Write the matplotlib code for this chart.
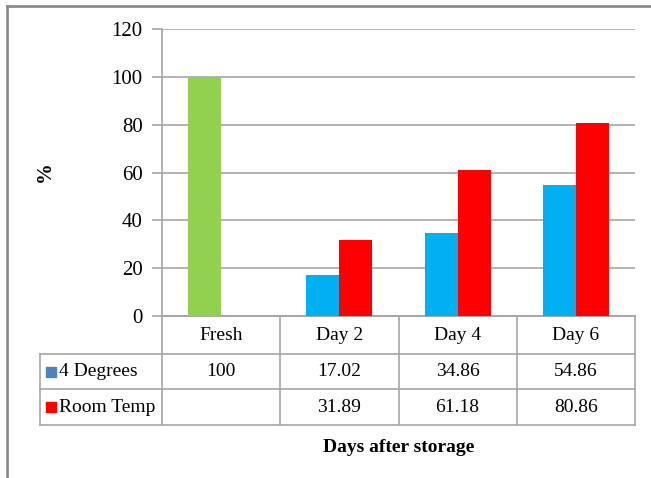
import matplotlib
matplotlib.use("Agg")
import matplotlib.pyplot as plt
from matplotlib.lines import Line2D
from matplotlib.patches import Rectangle
import numpy as np

categories = ["Fresh", "Day 2", "Day 4", "Day 6"]
series_names = ["4 Degrees", "Room Temp"]
four_degrees = [100, 17.02, 34.86, 54.86]
room_temp = [None, 31.89, 61.18, 80.86]
table_text_4 = ["100", "17.02", "34.86", "54.86"]
table_text_rt = ["", "31.89", "61.18", "80.86"]
yticks = [0, 20, 40, 60, 80, 100, 120]

plt.rcParams['font.family'] = ['Liberation Serif', 'DejaVu Serif']

W, H = 651, 478
fig = plt.figure(figsize=(W / 100, H / 100), dpi=100)

# overlay axes in pixel coordinates
ov = fig.add_axes([0, 0, 1, 1])
ov.set_xlim(0, W)
ov.set_ylim(H, 0)
ov.axis("off")

grid_c = "#A6A6A6"
frame_c = "#8C8C8C"

# outer frame
ov.add_line(Line2D([7, W], [6, 6], color=frame_c, lw=2))
ov.add_line(Line2D([7, 7], [6, H], color=frame_c, lw=2))

L, R, T, B = 162, 635, 29, 316
ax = fig.add_axes([L / W, 1 - B / H, (R - L) / W, (B - T) / H])
x = np.arange(len(categories))
bw = 0.28
c4 = ["#92D050"] + ["#00B0F0"] * (len(categories) - 1)
ax.bar(x - bw / 2, four_degrees, width=bw, color=c4, zorder=3)
rt_x = [xi + bw / 2 for xi, v in zip(x, room_temp) if v is not None]
rt_v = [v for v in room_temp if v is not None]
ax.bar(rt_x, rt_v, width=bw, color="#FF0000", zorder=3)
ax.set_xlim(-0.5, len(categories) - 0.5)
ax.set_ylim(0, 120)
ax.set_yticks(yticks)
ax.set_yticklabels([str(t) for t in yticks], fontsize=15)
ax.yaxis.grid(True, color=grid_c, lw=1.2)
ax.set_axisbelow(True)
ax.set_xticks([])
for s in ["top", "right"]:
    ax.spines[s].set_visible(False)
ax.spines["left"].set_color(grid_c)
ax.spines["bottom"].set_color(grid_c)
ax.spines["left"].set_linewidth(1.2)
ax.spines["bottom"].set_linewidth(1.2)
ax.tick_params(axis="y", length=7, color=grid_c, width=1.2, pad=7)
ax.set_facecolor("none")

fig.text(45 / W, 1 - 172 / H, "%", rotation=90, fontsize=15, fontweight="bold",
         ha="center", va="center")

# table
fig.canvas.draw()
def px(xd):
    disp = ax.transData.transform((xd, 0))
    return ov.transData.inverted().transform(disp)[0]

col_edges = [px(xi - 0.5) for xi in x] + [px(x[-1] + 0.5)]
col_centers = [px(xi) for xi in x]
row_y = [B, 354, 389, 425]
tbl_left = 40

lw = 1.2
# horizontal lines
ov.add_line(Line2D([col_edges[0], col_edges[-1]], [row_y[0]] * 2, color=grid_c, lw=lw))
for yy in row_y[1:]:
    ov.add_line(Line2D([tbl_left, col_edges[-1]], [yy, yy], color=grid_c, lw=lw))
# vertical lines
for xe in col_edges:
    ov.add_line(Line2D([xe, xe], [row_y[0], row_y[-1]], color=grid_c, lw=lw))
ov.add_line(Line2D([tbl_left, tbl_left], [row_y[1], row_y[-1]], color=grid_c, lw=lw))

fs = 14
for cx, lab in zip(col_centers, categories):
    ov.text(cx, (row_y[0] + row_y[1]) / 2, lab, ha="center", va="center", fontsize=fs)
for cx, t in zip(col_centers, table_text_4):
    ov.text(cx, (row_y[1] + row_y[2]) / 2, t, ha="center", va="center", fontsize=fs)
for cx, t in zip(col_centers, table_text_rt):
    ov.text(cx, (row_y[2] + row_y[3]) / 2, t, ha="center", va="center", fontsize=fs)

key_colors = ["#4F81BD", "#FF0000"]
for i, (name, kc) in enumerate(zip(series_names, key_colors)):
    yc = (row_y[i + 1] + row_y[i + 2]) / 2
    ov.add_patch(Rectangle((46, yc - 5), 10, 10, color=kc))
    ov.text(59, yc, name, ha="left", va="center", fontsize=fs)

ov.text((col_edges[0] + col_edges[-1]) / 2, 448, "Days after storage", ha="center",
        va="center", fontsize=14, fontweight="bold")

fig.savefig("out.png", dpi=100)
